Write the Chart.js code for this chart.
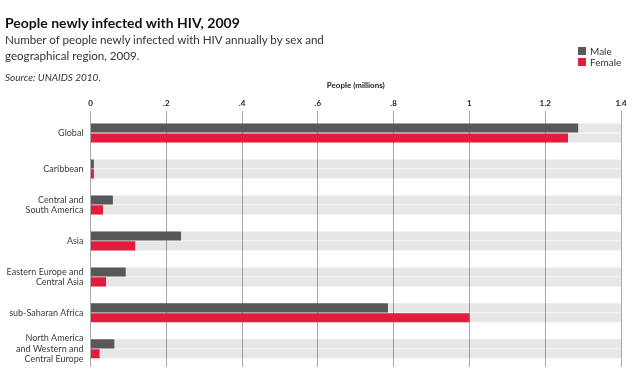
<!DOCTYPE html>
<html>
<head>
<meta charset="utf-8">
<script src="https://cdn.jsdelivr.net/npm/chart.js@4"></script>
<style>
  html, body { margin:0; padding:0; background:#fff; }
  #wrap { position:relative; width:640px; height:379px; overflow:hidden; font-family: Lato, "Open Sans", sans-serif; color:#222; }
  #c { position:absolute; left:0; top:0; }
  .t { position:absolute; white-space:nowrap; }
  #title { left:5px; top:14px; font-size:14px; font-weight:700; color:#111; }
  #sub { left:5px; top:32px; font-size:11.6px; line-height:15.5px; color:#333; }
  #src { left:5px; top:71px; font-size:10px; font-style:italic; color:#333; }
  #legend { left:578px; top:46px; font-size:10px; color:#333; }
  .li { display:flex; align-items:center; height:10.5px; }
  .sw { width:8px; height:8px; margin-right:4px; }
</style>
</head>
<body>
<div id="wrap">
  <canvas id="c" width="640" height="379"></canvas>
  <div class="t" id="title">People newly infected with HIV, 2009</div>
  <div class="t" id="sub">Number of people newly infected with HIV annually by sex and<br>geographical region, 2009.</div>
  <div class="t" id="src">Source: UNAIDS 2010.</div>
  <div class="t" id="legend"></div>
</div>
<script>
const categories = [
  'Global',
  'Caribbean',
  ['Central and', 'South America'],
  'Asia',
  ['Eastern Europe and', 'Central Asia'],
  'sub-Saharan Africa',
  ['North America', 'and Western and', 'Central Europe']
];
const maleValues   = [1.287, 0.009, 0.059, 0.239, 0.093, 0.785, 0.063];
const femaleValues = [1.260, 0.009, 0.033, 0.118, 0.041, 1.000, 0.024];
const trackValues  = [1.4, 1.4, 1.4, 1.4, 1.4, 1.4, 1.4];
const xTickLabels  = ['0', '.2', '.4', '.6', '.8', '1', '1.2', '1.4'];
const seriesNames  = ['Male', 'Female'];
const axisTitle    = 'People (millions)';

const MALE = '#58585a', FEMALE = '#e31b3c', TRACK = 'rgba(0,0,0,0.095)';

const lg = document.getElementById('legend');
[[seriesNames[0], MALE], [seriesNames[1], FEMALE]].forEach(([n, c]) => {
  const d = document.createElement('div');
  d.className = 'li';
  d.innerHTML = '<span class="sw" style="background:' + c + '"></span><span>' + n + '</span>';
  lg.appendChild(d);
});

new Chart(document.getElementById('c'), {
  type: 'bar',
  data: {
    labels: categories,
    datasets: [
      { label: seriesNames[0], data: maleValues, backgroundColor: MALE, stack: 'm' },
      { label: seriesNames[1], data: femaleValues, backgroundColor: FEMALE, stack: 'f' },
      { label: 'trackM', data: trackValues, backgroundColor: TRACK, stack: 'm' },
      { label: 'trackF', data: trackValues, backgroundColor: TRACK, stack: 'f' }
    ]
  },
  options: {
    indexAxis: 'y',
    responsive: false,
    animation: false,
    devicePixelRatio: 1,
    categoryPercentage: 0.55,
    barPercentage: 0.92,
    layout: { padding: { left: 0, right: 19, top: 78, bottom: 8 } },
    plugins: { legend: { display: false }, tooltip: { enabled: false } },
    scales: {
      x: {
        position: 'top',
        min: 0, max: 1.4,
        stacked: false,
        afterFit: (s) => { s.height = 37; },
        ticks: {
          stepSize: 0.2,
          padding: 3,
          maxRotation: 0,
          color: '#222',
          font: { family: 'Lato', size: 8, weight: 'bold' },
          callback: (v, i) => xTickLabels[i]
        },
        grid: { color: '#a8a8a8', lineWidth: 1, drawTicks: true, tickLength: 4, tickColor: '#a8a8a8' },
        border: { display: false },
        title: {
          display: true, text: axisTitle, color: '#222',
          font: { family: 'Lato', size: 8, weight: 'bold' },
          padding: { top: 3, bottom: 0 }
        }
      },
      y: {
        stacked: true,
        afterFit: (s) => { s.width = 90.5; },
        ticks: {
          padding: 7,
          color: '#3a3a3a',
          font: { family: 'Lato', size: 9, lineHeight: 1.15 }
        },
        grid: { display: false, drawTicks: false },
        border: { display: false }
      }
    }
  }
});
</script>
</body>
</html>
